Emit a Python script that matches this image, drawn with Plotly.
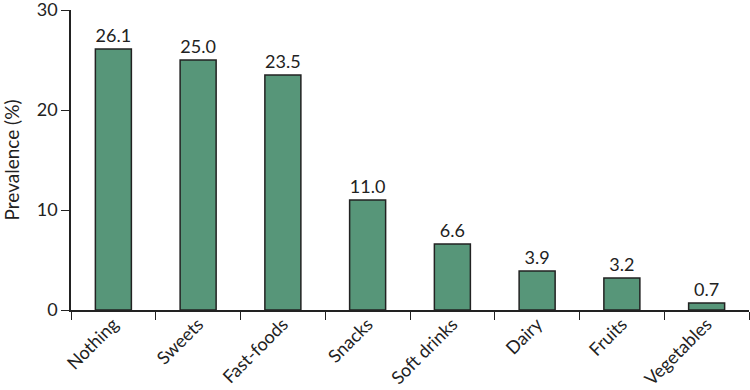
import plotly.graph_objects as go

categories = ["Nothing", "Sweets", "Fast-foods", "Snacks", "Soft drinks", "Dairy", "Fruits", "Vegetables"]
values = [26.1, 25.0, 23.5, 11.0, 6.6, 3.9, 3.2, 0.7]
value_labels = ["26.1", "25.0", "23.5", "11.0", "6.6", "3.9", "3.2", "0.7"]
y_ticks = [0, 10, 20, 30]

FONT = "Lato, Open Sans, sans-serif"

fig = go.Figure(go.Bar(
    x=categories, y=values,
    text=value_labels, textposition="outside",
    textfont=dict(family=FONT, size=18, color="#222"),
    marker=dict(color="#579679", line=dict(color="#222", width=1.5)),
    cliponaxis=False,
))

fig.update_layout(
    width=750, height=390,
    margin=dict(l=71, r=1, t=10, b=80),
    paper_bgcolor="white", plot_bgcolor="white",
    bargap=0.575,
    showlegend=False,
    font=dict(family=FONT, color="#222"),
    uniformtext=dict(minsize=18, mode="show"),
)
fig.update_xaxes(
    tickson="boundaries", ticks="outside", ticklen=8, tickcolor="#222",
    showline=True, linecolor="#222", linewidth=1.5,
    tickangle=-45, tickfont=dict(family=FONT, size=18, color="#222"),
    ticklabelstandoff=-5,
    showgrid=False, range=[-0.5, 7.5], automargin=False,
)
fig.update_yaxes(
    range=[0, 30], tickvals=y_ticks, ticks="outside", ticklen=8, tickcolor="#222",
    showline=True, linecolor="#222", linewidth=1.5, showgrid=False, zeroline=False,
    tickfont=dict(family=FONT, size=18, color="#222"), automargin=False,
    ticklabeloverflow="allow",
    title=dict(text="Prevalence (%)", font=dict(family=FONT, size=19, color="#222"), standoff=12),
)

fig.write_html("out.html", config={"displayModeBar": False},
               post_script="document.body.style.margin='0';document.body.style.overflow='hidden';")
